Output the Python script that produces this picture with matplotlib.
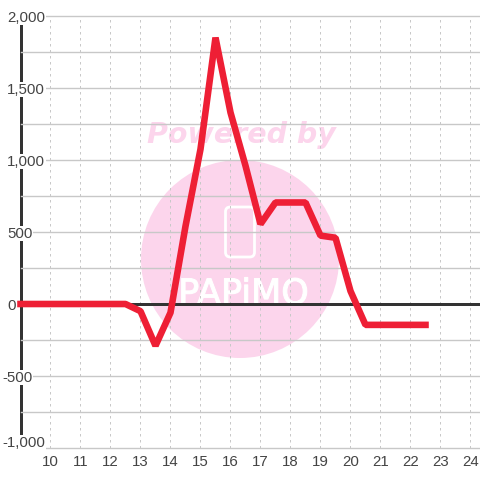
import matplotlib
matplotlib.use('Agg')
import matplotlib.pyplot as plt
import matplotlib.patheffects as pe
from matplotlib.patches import Circle, FancyBboxPatch
from matplotlib.ticker import FixedLocator
from matplotlib.transforms import ScaledTranslation

hours = [9, 9.5, 10, 10.5, 11, 11.5, 12, 12.5, 13, 13.5, 14, 14.5, 15, 15.5, 16, 16.5,
         17, 17.5, 18, 18.5, 19, 19.5, 20, 20.5, 21, 21.5, 22, 22.5]
values = [0, 0, 0, 0, 0, 0, 0, 0, -50, -290, -60, 540, 1075, 1850, 1330, 960,
          555, 705, 705, 705, 475, 460, 90, -145, -145, -145, -145, -145]
x_ticks = list(range(10, 25))
y_ticks = [-1000, -500, 0, 500, 1000, 1500, 2000]
y_minor = [-750, -250, 250, 750, 1250, 1750]
y_labels = ['-1,000', '-500', '0', '500', '1,000', '1,500', '2,000']

DARK = '#333333'
RED = '#ee1f35'
GRID = '#c8c8c8'
PINK = '#fcd5ec'
TXT = '#444444'
PX = 72 / 100

plt.rcParams['font.family'] = ['Liberation Sans', 'DejaVu Sans']
fig = plt.figure(figsize=(4.8, 4.8), dpi=100, facecolor='white')
ax = fig.add_axes([20.5 / 480, 32 / 480, 459.5 / 480, 432 / 480])
ax.set_xlim(9, 24.317)
ax.set_ylim(-1000, 2000)
ax.set_axisbelow(True)
for s in ['top', 'right', 'bottom']:
    ax.spines[s].set_visible(False)
ax.spines['left'].set_linewidth(3 * PX)
ax.spines['left'].set_color(DARK)
ax.spines['left'].set_bounds(-917, 1944)
ax.spines['left'].set_zorder(0.4)

ax.set_xticks(x_ticks)
ax.set_yticks(y_ticks)
ax.set_yticklabels(y_labels)
ax.yaxis.set_minor_locator(FixedLocator(y_minor))
ax.grid(True, axis='y', which='both', color=GRID, lw=1.4 * PX, ls='-', clip_on=False)
ax.grid(True, axis='x', which='major', color=GRID, lw=1 * PX, ls=(0, (2.5, 3.5)))
ax.tick_params(axis='both', which='both', length=0, labelsize=15 * PX, labelcolor=TXT)
ax.tick_params(axis='x', pad=6.5 * PX)

for t, lab in zip(ax.yaxis.get_major_ticks(), y_labels):
    t.set_pad((18.5 if lab.startswith('-') else 13.5) * PX)
    t.label1.set_ha('left')
    t.label1.set_bbox(dict(facecolor='white', edgecolor='none', pad=0.5))
    t.gridline.set_clip_on(False)
    if lab == '-1,000':
        t.label1.set_transform(t.label1.get_transform() + ScaledTranslation(0, 6.5 * PX / 72, fig.dpi_scale_trans))

ax.add_patch(Circle((240 / 480, 1 - 259 / 480), 99 / 480, transform=fig.transFigure,
                    facecolor=PINK, edgecolor='none', zorder=0.1))
ax.add_patch(FancyBboxPatch((225.5 / 480, 1 - 257 / 480), 29 / 480, 50 / 480,
                            boxstyle='round,pad=0,rounding_size=0.01', transform=fig.transFigure,
                            facecolor='none', edgecolor='white', lw=2.8 * PX, zorder=0.2))
ax.text(243.5 / 480, 1 - 304 / 480, 'PAPiMO', transform=fig.transFigure, color='white', fontsize=35 * PX,
        family=['Liberation Sans Narrow', 'DejaVu Sans'], ha='center', va='baseline', zorder=0.3,
        path_effects=[pe.withStroke(linewidth=1 * PX, foreground='white')])
ax.text(241.5 / 480, 1 - 135 / 480, 'Powered by', transform=fig.transFigure, color=PINK, fontsize=28.5 * PX,
        family='DejaVu Sans', weight='bold', style='italic', ha='center', va='center', zorder=0.2)

ax.axhline(0, color=DARK, lw=3 * PX, zorder=2)
ax.plot(hours, values, color=RED, lw=6.6 * PX, solid_joinstyle='bevel', solid_capstyle='projecting',
        clip_on=False, zorder=3)

fig.savefig('out.png', dpi=100)
